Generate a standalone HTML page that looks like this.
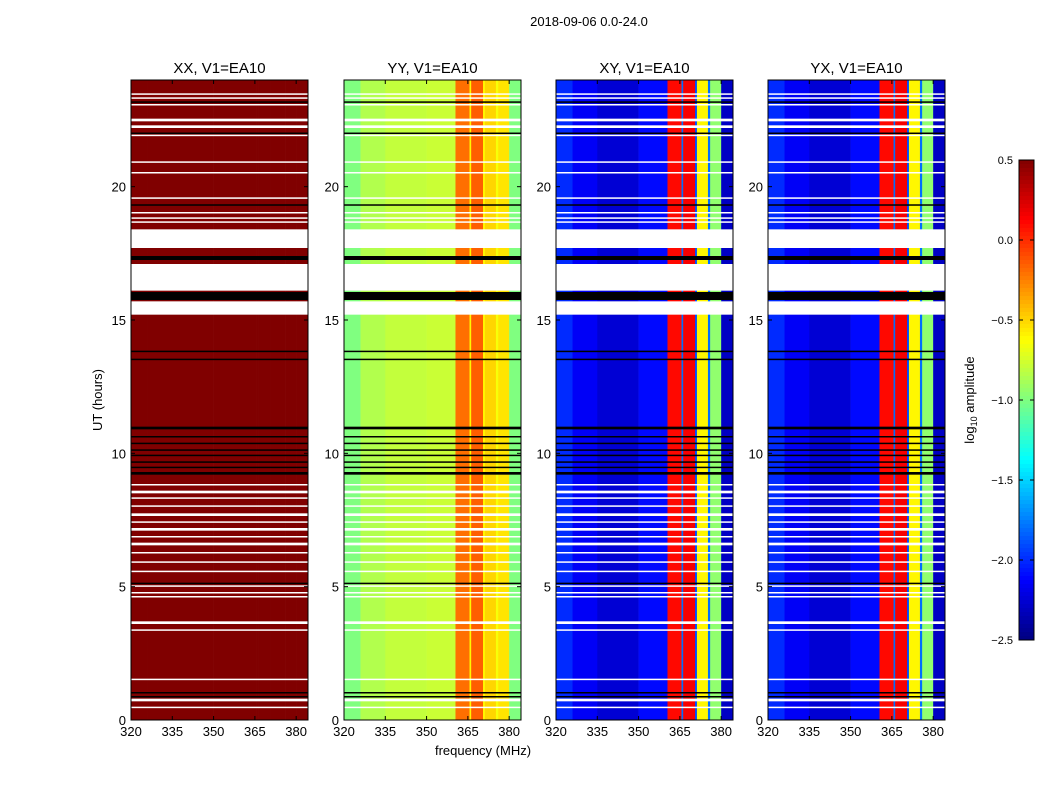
<!DOCTYPE html>
<html><head><meta charset="utf-8"><style>
body{margin:0;background:#fff;font-family:"Liberation Sans",sans-serif;}
svg text{font-family:"Liberation Sans",sans-serif;}
</style></head><body>
<svg id="fig" width="1050" height="800" xmlns="http://www.w3.org/2000/svg">
<rect width="1050" height="800" fill="#fff"/>
<text x="589" y="26" font-size="13" text-anchor="middle">2018-09-06 0.0-24.0</text>
<text x="102" y="400" font-size="13" text-anchor="middle" transform="rotate(-90 102 400)">UT (hours)</text>
<text x="483" y="755" font-size="13" text-anchor="middle">frequency (MHz)</text>
<text x="974" y="400" font-size="13" text-anchor="middle" transform="rotate(-90 974 400)">log<tspan font-size="9" dy="3">10</tspan><tspan dy="-3"> amplitude</tspan></text>
</svg>
<script>
// frequency band edges (MHz)
const bandEdges=[320,326,335,350,360.5,365.6,366.2,370.5,371.2,375.2,376,380,384.3];
// log10 amplitude per band, per panel
const valsXX=[0.5,0.5,0.5,0.5,0.5,0.5,0.5,0.5,0.5,0.5,0.5,0.5];
const valsYY=[-1.0,-0.85,-0.8,-0.78,-0.2,-0.6,-0.15,-0.6,-0.5,-0.65,-0.55,-1.0];
const valsXY=[-2.0,-2.15,-2.25,-2.1,0.1,-1.8,0.15,-1.9,-0.6,-1.8,-0.95,-2.3];
const valsYX=[-2.0,-2.15,-2.25,-2.1,0.1,-1.8,0.15,-1.9,-0.6,-1.8,-0.95,-2.3];
const panelNames=["XX, V1=EA10","YY, V1=EA10","XY, V1=EA10","YX, V1=EA10"];
// flagged time ranges (UT hours)
const whiteFlags=[[23.45,23.5],[23.3,23.35],[23.05,23.1],[22.45,22.55],[22.2,22.3],[21.9,21.95],[20.9,20.95],[20.5,20.55],[19.55,19.6],[19.0,19.05],[18.8,18.85],[18.65,18.7],[17.7,18.4],[16.1,17.1],[15.2,15.7],[8.8,8.85],[8.5,8.6],[8.3,8.35],[8.0,8.05],[7.65,7.75],[7.4,7.45],[7.1,7.2],[6.85,6.9],[6.55,6.65],[6.25,6.3],[5.9,5.95],[5.55,5.6],[5.0,5.05],[4.75,4.8],[4.6,4.65],[3.6,3.7],[3.35,3.4],[1.5,1.55],[0.7,0.8],[0.45,0.5]];
const blackFlags=[[23.15,23.2],[22.0,22.03],[19.3,19.34],[17.25,17.4],[15.75,16.05],[13.8,13.85],[13.5,13.55],[10.9,11.0],[10.6,10.65],[10.35,10.4],[10.1,10.15],[9.9,9.95],[9.65,9.7],[9.45,9.5],[9.2,9.3],[5.1,5.15],[1.0,1.05],[0.85,0.9]];
const cbTicks=[0.5,0.0,-0.5,-1.0,-1.5,-2.0,-2.5];
const xTicks=[320,335,350,365,380];
const yTicks=[0,5,10,15,20];

const svg=document.getElementById('fig');
const NS="http://www.w3.org/2000/svg";
function jet(v){let t=(v+2.5)/3;t=Math.max(0,Math.min(1,t));
 const c=x=>Math.round(255*Math.max(0,Math.min(1,x)));
 return `rgb(${c(1.5-Math.abs(4*t-3))},${c(1.5-Math.abs(4*t-2))},${c(1.5-Math.abs(4*t-1))})`;}
function mk(tag,attrs){const e=document.createElementNS(NS,tag);for(const k in attrs)e.setAttribute(k,attrs[k]);svg.appendChild(e);return e;}
const panelX=[131,344,556,768],PW=177,PT=80,PH=640;
const allVals=[valsXX,valsYY,valsXY,valsYX];
const fx=(x0,f)=>x0+(f-320)/(384.3-320)*PW;
const ty=h=>PT+PH-h/24*PH;
panelX.forEach((x0,p)=>{
 const vals=allVals[p];
 for(let i=0;i<vals.length;i++){
  const r=mk('rect',{x:fx(x0,bandEdges[i]),y:PT,width:fx(x0,bandEdges[i+1])-fx(x0,bandEdges[i])+0.3,height:PH,fill:jet(vals[i])});
  
  
 }
 whiteFlags.forEach(f=>{const r=mk('rect',{x:x0,y:ty(f[1]),width:PW,height:Math.max(1.5,ty(f[0])-ty(f[1])),fill:'#fff'});
  });
 blackFlags.forEach(f=>{const r=mk('rect',{x:x0,y:ty(f[1]),width:PW,height:Math.max(1.5,ty(f[0])-ty(f[1])),fill:'#000'});
  });
 const fr=mk('rect',{x:x0,y:PT,width:PW,height:PH,fill:'none',stroke:'#000','stroke-width':1});
 
 const t=mk('text',{x:x0+PW/2,y:73,'font-size':15,'text-anchor':'middle'});t.textContent=panelNames[p];
 
 xTicks.forEach(v=>{const x=fx(x0,v);
  mk('line',{x1:x,x2:x,y1:PT+PH,y2:PT+PH-4,stroke:'#000'});mk('line',{x1:x,x2:x,y1:PT,y2:PT+4,stroke:'#000'});
  const l=mk('text',{x:x,y:736,'font-size':13,'text-anchor':'middle'});l.textContent=v;
  });
 yTicks.forEach(v=>{const y=ty(v);
  mk('line',{x1:x0,x2:x0+4,y1:y,y2:y,stroke:'#000'});mk('line',{x1:x0+PW,x2:x0+PW-4,y1:y,y2:y,stroke:'#000'});
  const l=mk('text',{x:x0-5,y:y+5,'font-size':13,'text-anchor':'end'});l.textContent=v;
  });
});
// colorbar
const cbX=1019,cbW=15,cbT=160,cbH=480;
for(let i=0;i<120;i++){const v=0.5-3*(i+0.5)/120;
 const r=mk('rect',{x:cbX,y:cbT+i*cbH/120,width:cbW,height:cbH/120+0.5,fill:jet(v)});
 }
const cf=mk('rect',{x:cbX,y:cbT,width:cbW,height:cbH,fill:'none',stroke:'#000'});

cbTicks.forEach(v=>{const y=cbT+(0.5-v)/3*cbH;
 mk('line',{x1:cbX,x2:cbX+4,y1:y,y2:y,stroke:'#000'});mk('line',{x1:cbX+cbW-4,x2:cbX+cbW,y1:y,y2:y,stroke:'#000'});
 const l=mk('text',{x:1013,y:y+4,'font-size':11,'text-anchor':'end'});l.textContent=(v<0?'\u2212':'')+Math.abs(v).toFixed(1);
 });
</script>
</body></html>
